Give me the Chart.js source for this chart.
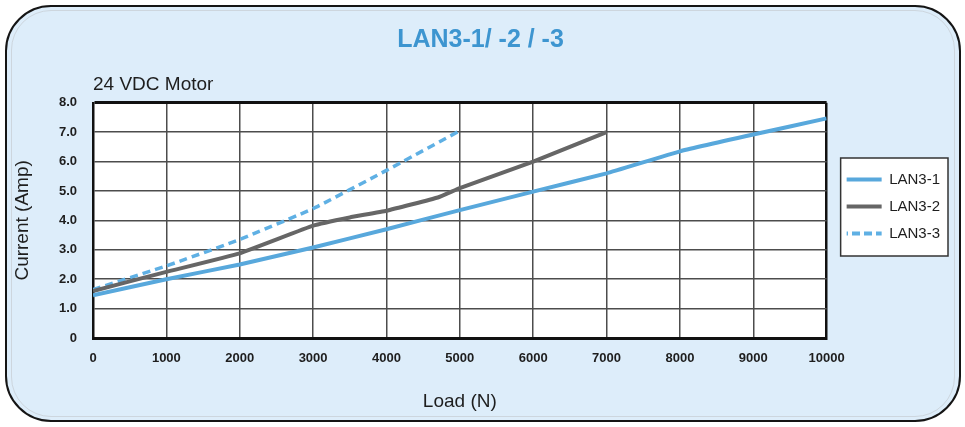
<!DOCTYPE html>
<html>
<head>
<meta charset="utf-8">
<script src="https://cdn.jsdelivr.net/npm/chart.js" type="text/javascript"></script>
<style>
  html, body { margin: 0; padding: 0; background: #ffffff; }
  #wrap { position: relative; width: 965px; height: 427px; overflow: hidden; }
  #frame {
    position: absolute; left: 5px; top: 5px; width: 956px; height: 417px;
    box-sizing: border-box; border: 2px solid #151515; border-radius: 46px;
    background: #ddedfa;
  }
  #inner {
    position: absolute; left: 11px; top: 10px; width: 944px; height: 407px;
    box-sizing: border-box; border: 1px solid #cdd6de; border-radius: 40px;
  }
  canvas { position: absolute; left: 0; top: 0; }
</style>
</head>
<body>
<div id="wrap">
  <div id="frame"></div>
  <div id="inner"></div>
  <canvas id="chart" width="965" height="427"></canvas>
</div>
<script>
// ---------------- data ----------------
const seriesNames = ["LAN3-1", "LAN3-2", "LAN3-3"];

const lan31Load = [0, 1000, 2000, 3000, 4000, 5000, 6000, 7000, 8000, 9000, 10000];
const lan31Current = [1.45, 2.0, 2.5, 3.08, 3.7, 4.35, 4.98, 5.6, 6.35, 6.92, 7.47];

const lan32Load = [0, 1000, 2000, 3000, 3500, 4000, 4700, 5000, 6000, 7000];
const lan32Current = [1.6, 2.25, 2.88, 3.82, 4.1, 4.33, 4.78, 5.1, 6.0, 7.0];

const lan33Load = [0, 1000, 2000, 3000, 4000, 5000];
const lan33Current = [1.65, 2.45, 3.35, 4.4, 5.7, 7.05];

const loadMin = 0, loadMax = 10000, loadStep = 1000;
const currentMin = 0, currentMax = 8, currentStep = 1;

// ---------------- helpers ----------------
const FONT = "'Liberation Sans', Arial, sans-serif";
const toPoints = (xs, ys) => xs.map((x, i) => ({ x: x, y: ys[i] }));

// dashed fill for the legend sample of the dashed series
function dashPattern(color, on, off) {
  const c = document.createElement("canvas");
  c.width = on + off;
  c.height = 4;
  const g = c.getContext("2d");
  g.fillStyle = color;
  g.fillRect(0, 0, on, 4);
  return document.getElementById("chart").getContext("2d").createPattern(c, "repeat");
}

// white plot background + framed legend box
const chartDecor = {
  id: "chartDecor",
  beforeDraw(chart) {
    const { ctx, chartArea } = chart;
    ctx.save();
    ctx.fillStyle = "#ffffff";
    ctx.fillRect(chartArea.left, chartArea.top, chartArea.right - chartArea.left, chartArea.bottom - chartArea.top);

    const boxes = chart.legend && chart.legend.legendHitBoxes;
    if (boxes && boxes.length) {
      let l = Infinity, t = Infinity, r = -Infinity, b = -Infinity;
      boxes.forEach(h => {
        l = Math.min(l, h.left); t = Math.min(t, h.top);
        r = Math.max(r, h.left + h.width); b = Math.max(b, h.top + h.height);
      });
      ctx.fillStyle = "#ffffff";
      ctx.strokeStyle = "#333333";
      ctx.lineWidth = 1.5;
      ctx.fillRect(l - 6, t - 14, (r - l) + 14, (b - t) + 29);
      ctx.strokeRect(l - 6, t - 14, (r - l) + 14, (b - t) + 29);
    }
    ctx.restore();
  }
};

new Chart(document.getElementById("chart").getContext("2d"), {
  type: "line",
  data: {
    datasets: [
      {
        label: seriesNames[0],
        data: toPoints(lan31Load, lan31Current),
        borderColor: "#58a8dc",
        backgroundColor: "#58a8dc",
        borderWidth: 4,
        pointRadius: 0,
        tension: 0.1
      },
      {
        label: seriesNames[1],
        data: toPoints(lan32Load, lan32Current),
        borderColor: "#666666",
        backgroundColor: "#666666",
        borderWidth: 4,
        pointRadius: 0,
        tension: 0.1
      },
      {
        label: seriesNames[2],
        data: toPoints(lan33Load, lan33Current),
        borderColor: "#5fb0e4",
        backgroundColor: "#5fb0e4",
        borderWidth: 3.5,
        borderDash: [8, 5],
        pointRadius: 0,
        tension: 0.1
      }
    ]
  },
  options: {
    responsive: false,
    animation: false,
    layout: { padding: { left: 11, right: 15, top: 0, bottom: 14 } },
    plugins: {
      title: {
        display: true,
        text: "LAN3-1/ -2 / -3",
        color: "#3d95d0",
        font: { family: FONT, size: 25, weight: "bold", lineHeight: 1.2 },
        padding: { top: 25, bottom: 0 }
      },
      subtitle: {
        display: true,
        text: "24 VDC Motor",
        align: "start",
        fullSize: false,
        color: "#1e1e1e",
        font: { family: FONT, size: 19, lineHeight: 1.2 },
        padding: { top: 18, bottom: 7 }
      },
      legend: {
        position: "right",
        labels: {
          color: "#1e1e1e",
          font: { family: FONT, size: 15 },
          boxWidth: 35,
          boxHeight: 4,
          padding: 12,
          generateLabels: chart => chart.data.datasets.map((ds, i) => ({
            text: ds.label,
            datasetIndex: i,
            fillStyle: ds.borderDash ? dashPattern(ds.borderColor, 8, 4) : ds.borderColor,
            strokeStyle: ds.borderColor,
            lineWidth: 0,
            fontColor: "#1e1e1e",
            hidden: false
          }))
        }
      },
      tooltip: { enabled: false }
    },
    scales: {
      x: {
        type: "linear",
        min: loadMin,
        max: loadMax,
        afterFit: s => { s.height = 75; },
        ticks: {
          stepSize: loadStep,
          padding: 13,
          color: "#1e1e1e",
          font: { family: FONT, size: 13, weight: "bold" },
          maxRotation: 0,
          callback: v => String(v)
        },
        grid: {
          drawTicks: false,
          color: c => (c.tick && c.tick.value === loadMax ? "#111111" : "#4d4d4d"),
          lineWidth: c => (c.tick && c.tick.value === loadMax ? 2.5 : 1.5)
        },
        border: { color: "#111111", width: 3 },
        title: {
          display: true,
          text: "Load (N)",
          color: "#1e1e1e",
          font: { family: FONT, size: 19, lineHeight: 1.2 },
          padding: { top: 0, bottom: 0 }
        }
      },
      y: {
        min: currentMin,
        max: currentMax,
        afterFit: s => { s.width = 82; },
        ticks: {
          stepSize: currentStep,
          padding: 16,
          color: "#1e1e1e",
          font: { family: FONT, size: 13, weight: "bold" },
          callback: v => (v === 0 ? "0" : v.toFixed(1))
        },
        grid: {
          drawTicks: false,
          color: c => (c.tick && c.tick.value === currentMax ? "#111111" : "#4d4d4d"),
          lineWidth: c => (c.tick && c.tick.value === currentMax ? 3 : 1.5)
        },
        border: { color: "#111111", width: 2.5 },
        title: {
          display: true,
          text: "Current (Amp)",
          color: "#1e1e1e",
          font: { family: FONT, size: 19, lineHeight: 1.2 },
          padding: { top: 0, bottom: 0 }
        }
      },
      // empty right-hand axis, only keeps a small gap before the legend
      gap: {
        type: "linear",
        position: "right",
        display: true,
        afterFit: s => { s.width = 8; },
        ticks: { display: false },
        grid: { display: false },
        border: { display: false }
      }
    }
  },
  plugins: [chartDecor]
});
</script>
</body>
</html>
